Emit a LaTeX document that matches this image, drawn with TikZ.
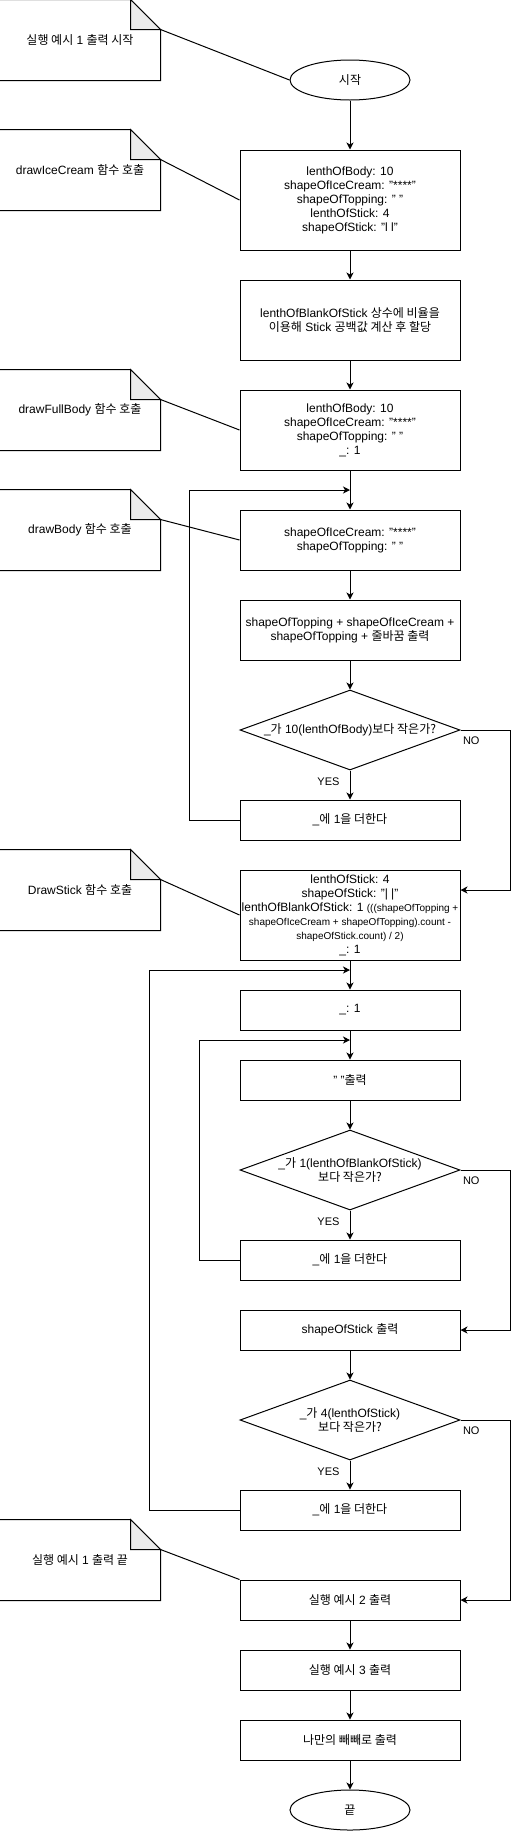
\documentclass[tikz,border=0pt]{standalone}
\usepackage{fontspec}
\setmainfont{Liberation Sans}
\newfontfamily\hangul{Noto Sans CJK KR}
\newcommand{\kor}[1]{{\hangul #1}}
\newcommand{\smalltxt}{\fontsize{10pt}{14pt}\selectfont}
\usetikzlibrary{shapes.geometric,arrows.meta}

\begin{document}
\begin{tikzpicture}[
  x=1pt, y=-1pt,
  line width=1pt,
  >={Stealth[length=7pt,width=7pt,inset=2pt]},
  box/.style={draw, rectangle, minimum width=220pt, inner sep=0pt, align=center,
    font=\fontsize{12pt}{14pt}\selectfont},
  term/.style={draw, ellipse, minimum width=120pt, minimum height=40pt, inner sep=0pt,
    font=\fontsize{12pt}{14pt}\selectfont},
  cond/.style={draw, diamond, aspect=2.75, minimum width=220pt, minimum height=80pt,
    inner sep=0pt, align=center, font=\fontsize{12pt}{14pt}\selectfont},
  memo/.style={rectangle, minimum width=160pt, minimum height=80pt, inner sep=0pt,
    font=\fontsize{12pt}{14pt}\selectfont},
  lbl/.style={inner sep=0pt, font=\fontsize{11pt}{13pt}\selectfont},
]
\definecolor{fold}{RGB}{235,235,235}

\useasboundingbox (0,0) rectangle (519,1831);

\node [memo] (n1) at (80,40) {\kor{실행 예시} 1 \kor{출력 시작}};
\node [memo] (n2) at (80,170) {drawIceCream \kor{함수 호출}};
\node [memo] (n3) at (80,410) {drawFullBody \kor{함수 호출}};
\node [memo] (n4) at (80,530) {drawBody \kor{함수 호출}};
\node [memo] (n5) at (80,890) {DrawStick \kor{함수 호출}};
\node [memo] (n6) at (80,1560) {\kor{실행 예시} 1 \kor{출력 끝}};

\foreach \n in {n1,n2,n3,n4,n5,n6} {
  \draw (\n.south west) -- (\n.north west) -- ([xshift=-30pt]\n.north east)
    -- ([yshift=-30pt]\n.north east) -- (\n.south east) -- cycle;
  \draw [fill=fold] ([xshift=-30pt]\n.north east) -- ([xshift=-30pt,yshift=-30pt]\n.north east)
    -- ([yshift=-30pt]\n.north east) -- cycle;
}

\node [term] (start) at (350,80) {\kor{시작}};
\node [box, minimum height=100pt] (b1) at (350,200)
  {lenthOfBody: 10\\shapeOfIceCream: "****"\\shapeOfTopping: " "\\lenthOfStick: 4\\shapeOfStick: "l l"};
\node [box, minimum height=80pt] (b2) at (350,320)
  {lenthOfBlankOfStick \kor{상수에 비율을}\\\kor{이용해} Stick \kor{공백값 계산 후 할당}};
\node [box, minimum height=80pt] (b3) at (350,430)
  {lenthOfBody: 10\\shapeOfIceCream: "****"\\shapeOfTopping: " "\\\_: 1};
\node [box, minimum height=60pt] (b4) at (350,540)
  {shapeOfIceCream: "****"\\shapeOfTopping: " "};
\node [box, minimum height=60pt] (b5) at (350,630)
  {shapeOfTopping + shapeOfIceCream +\\shapeOfTopping + \kor{줄바꿈 출력}};
\node [cond] (d1) at (350,730) {\_\kor{가} 10(lenthOfBody)\kor{보다 작은가?}};
\node [box, minimum height=40pt] (b6) at (350,820) {\_\kor{에} 1\kor{을 더한다}};

\node [box, minimum height=90pt] (b7) at (350,915)
  {lenthOfStick: 4\\shapeOfStick: "| |"\\lenthOfBlankOfStick: 1 {\smalltxt (((shapeOfTopping +}\\
   {\smalltxt shapeOfIceCream + shapeOfTopping).count -}\\{\smalltxt shapeOfStick.count) / 2)}\\\_: 1};
\node [box, minimum height=40pt] (b8) at (350,1010) {\_: 1};
\node [box, minimum height=40pt] (b9) at (350,1080) {" "\kor{출력}};
\node [cond] (d2) at (350,1170) {\_\kor{가} 1(lenthOfBlankOfStick)\\\kor{보다 작은가?}};
\node [box, minimum height=40pt] (b10) at (350,1260) {\_\kor{에} 1\kor{을 더한다}};
\node [box, minimum height=40pt] (b11) at (350,1330) {shapeOfStick \kor{출력}};
\node [cond] (d3) at (350,1420) {\_\kor{가} 4(lenthOfStick)\\\kor{보다 작은가?}};
\node [box, minimum height=40pt] (b12) at (350,1510) {\_\kor{에} 1\kor{을 더한다}};

\node [box, minimum height=40pt] (b13) at (350,1600) {\kor{실행 예시} 2 \kor{출력}};
\node [box, minimum height=40pt] (b14) at (350,1670) {\kor{실행 예시} 3 \kor{출력}};
\node [box, minimum height=40pt] (b15) at (350,1740) {\kor{나만의 빼빼로 출력}};
\node [term] (stop) at (350,1810) {\kor{끝}};

\coordinate (j1) at (350,490);
\coordinate (j2) at (350,970);
\coordinate (j3) at (350,1040);

\foreach \a/\b in {start/b1, b1/b2, b2/b3, b3/b4, b4/b5, b5/d1, d1/b6, b7/b8, b8/b9,
    b9/d2, d2/b10, b11/d3, d3/b12, b13/b14, b14/b15, b15/stop}
  \draw [->] (\a.south) -- (\b.north);

\draw [->] (b6.west) -- ++(-50,0) |- (j1);
\draw [->] (b10.west) -- ++(-40,0) |- (j3);
\draw [->] (b12.west) -- ++(-90,0) |- (j2);

\draw [->] (d1.east) -- ++(50,0) |- ([yshift=25pt]b7.east);
\draw [->] (d2.east) -- ++(50,0) |- (b11.east);
\draw [->] (d3.east) -- ++(50,0) |- (b13.east);

\node [lbl, anchor=west] at ([xshift=2pt,yshift=-11pt]d1.east) {NO};
\node [lbl, anchor=west] at ([xshift=2pt,yshift=-11pt]d2.east) {NO};
\node [lbl, anchor=west] at ([xshift=2pt,yshift=-11pt]d3.east) {NO};
\node [lbl, anchor=east] at ([xshift=-10pt,yshift=-11pt]d1.south) {YES};
\node [lbl, anchor=east] at ([xshift=-10pt,yshift=-11pt]d2.south) {YES};
\node [lbl, anchor=east] at ([xshift=-10pt,yshift=-11pt]d3.south) {YES};

\draw ([yshift=-30pt]n1.north east) -- (start.west);
\draw ([yshift=-30pt]n2.north east) -- (b1.west);
\draw ([yshift=-30pt]n3.north east) -- (b3.west);
\draw ([yshift=-30pt]n4.north east) -- (b4.west);
\draw ([yshift=-30pt]n5.north east) -- (b7.west);
\draw ([yshift=-30pt]n6.north east) -- (b13.north west);

\end{tikzpicture}
\end{document}
